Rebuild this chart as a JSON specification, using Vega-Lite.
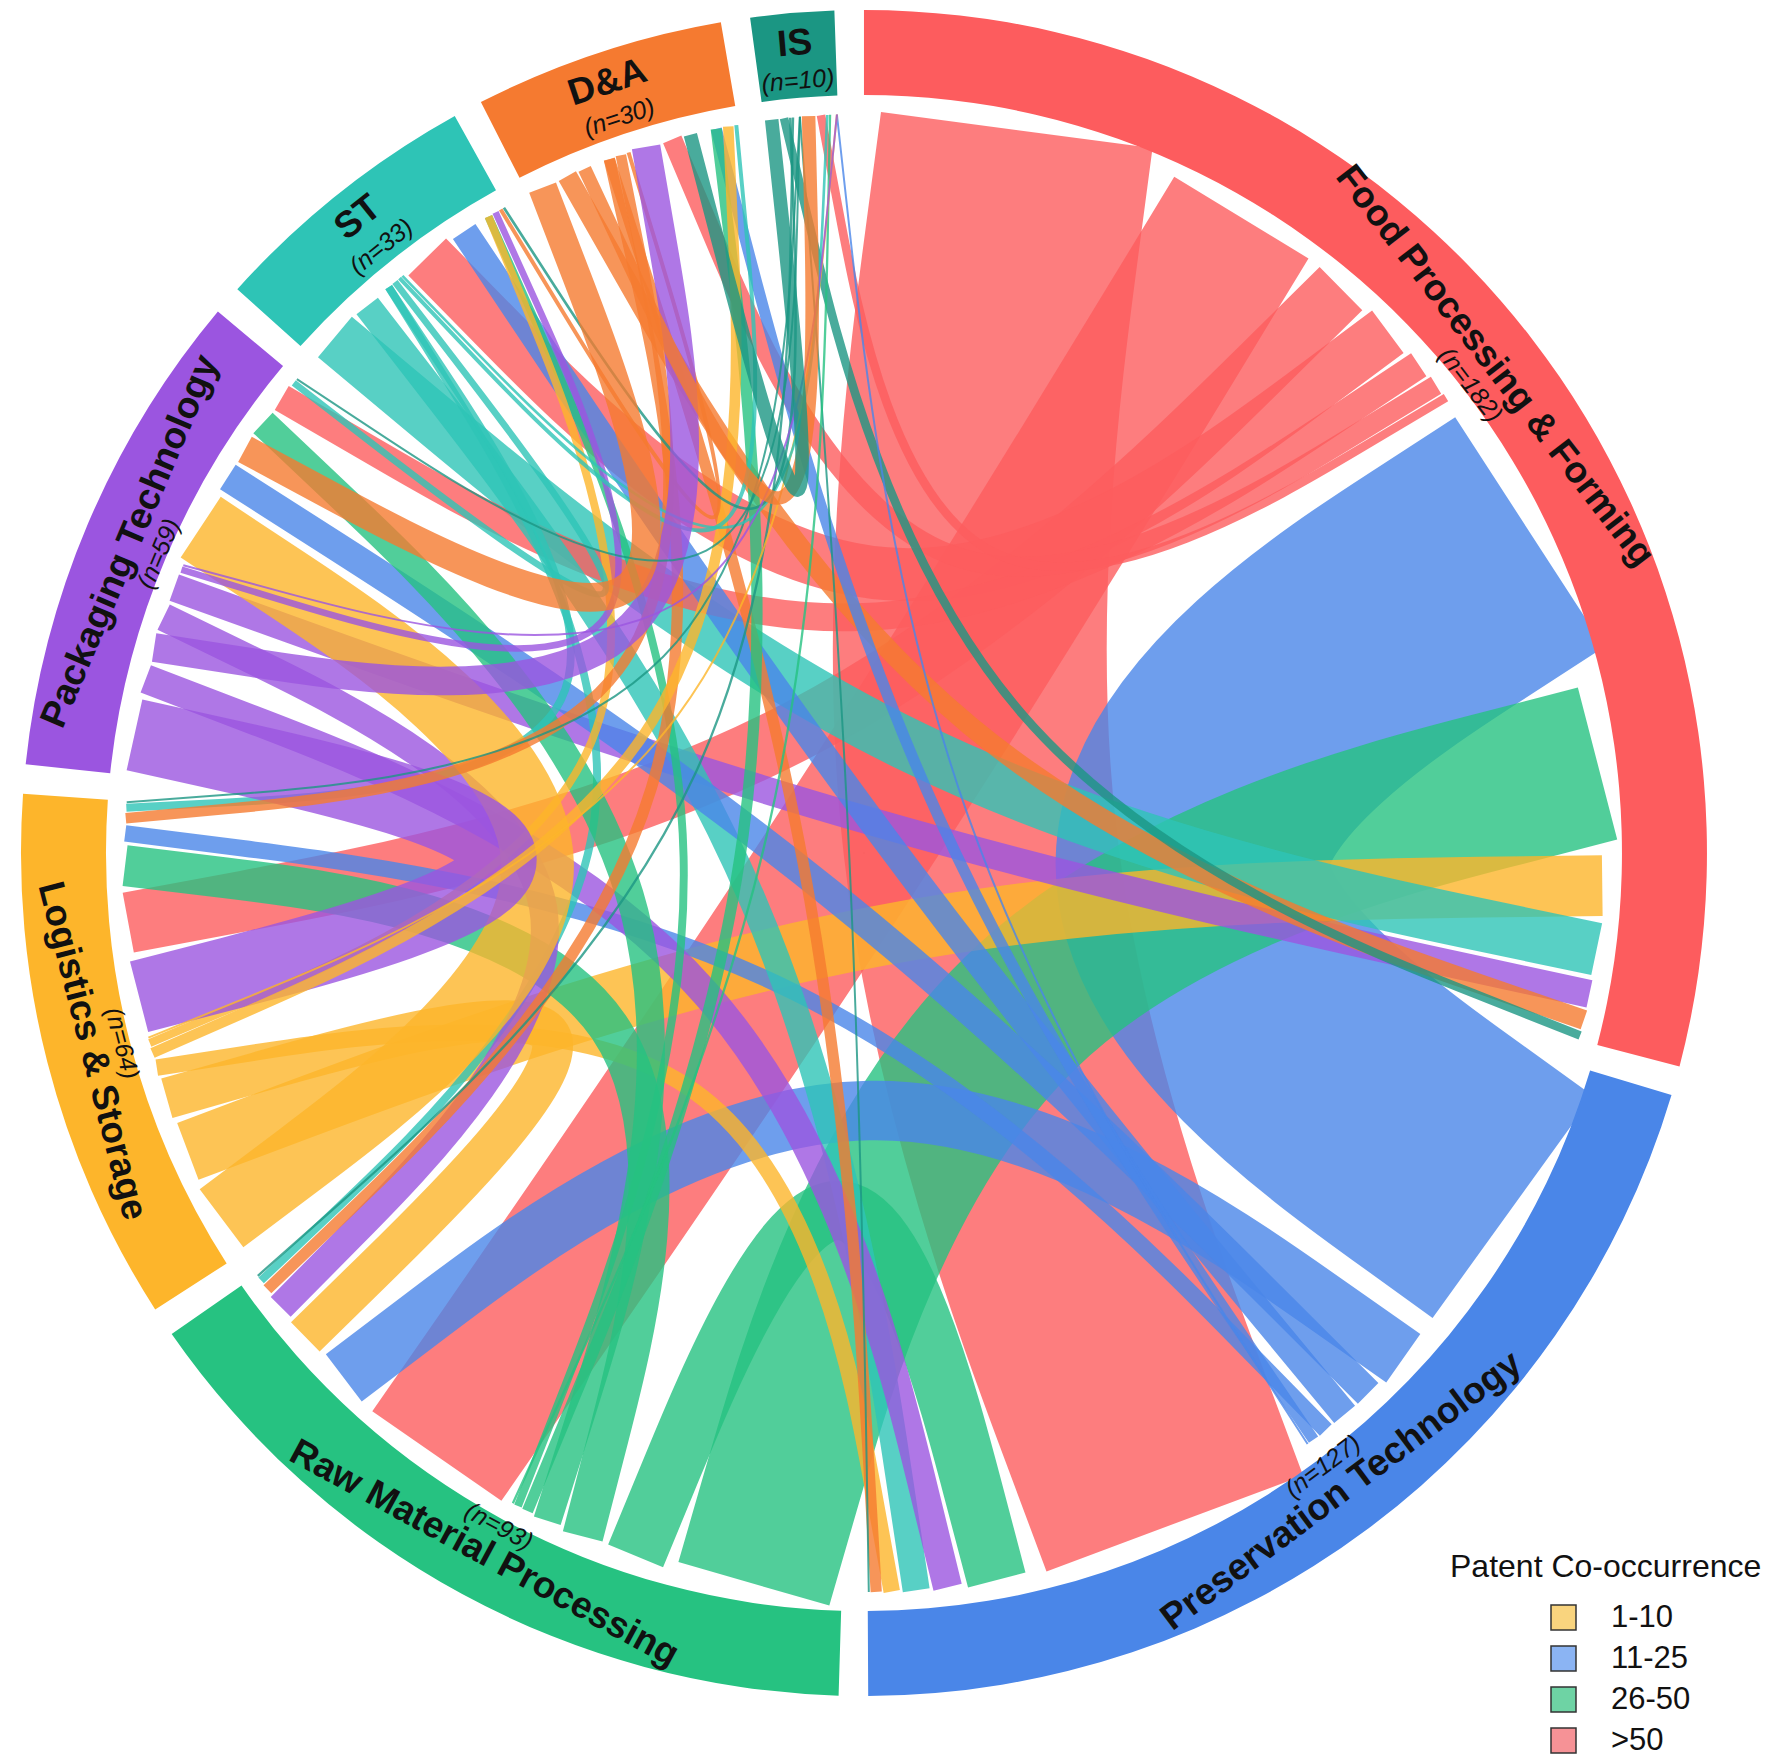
{
  "$schema": "https://vega.github.io/schema/vega-lite/v6.json",
  "width": 1783,
  "height": 1764,
  "autosize": {"type": "none"},
  "padding": 0,
  "background": "white",
  "config": {"view": {"stroke": null}},
  "datasets": {
    "sectors": [
      {"code": "FPF", "label": "Food Processing & Forming", "n": 182, "idx": 0},
      {"code": "PT", "label": "Preservation Technology", "n": 127, "idx": 1},
      {"code": "RMP", "label": "Raw Material Processing", "n": 93, "idx": 2},
      {"code": "LS", "label": "Logistics & Storage", "n": 64, "idx": 3},
      {"code": "PKT", "label": "Packaging Technology", "n": 59, "idx": 4},
      {"code": "ST", "label": "ST", "n": 33, "idx": 5},
      {"code": "D&A", "label": "D&A", "n": 30, "idx": 6},
      {"code": "IS", "label": "IS", "n": 10, "idx": 7}
    ],
    "links": [
      {"from": "FPF", "to": "PT", "value": 41.5}, {"from": "PT", "to": "FPF", "value": 41.5},
      {"from": "FPF", "to": "RMP", "value": 23.8}, {"from": "RMP", "to": "FPF", "value": 23.8},
      {"from": "FPF", "to": "LS", "value": 9.2}, {"from": "LS", "to": "FPF", "value": 9.2},
      {"from": "FPF", "to": "ST", "value": 8}, {"from": "ST", "to": "FPF", "value": 8},
      {"from": "FPF", "to": "PKT", "value": 4.2}, {"from": "PKT", "to": "FPF", "value": 4.2},
      {"from": "FPF", "to": "D&A", "value": 3}, {"from": "D&A", "to": "FPF", "value": 3},
      {"from": "FPF", "to": "IS", "value": 1.3}, {"from": "IS", "to": "FPF", "value": 1.3},
      {"from": "PT", "to": "RMP", "value": 9}, {"from": "RMP", "to": "PT", "value": 9},
      {"from": "PT", "to": "LS", "value": 2.5}, {"from": "LS", "to": "PT", "value": 2.5},
      {"from": "PT", "to": "ST", "value": 4.1}, {"from": "ST", "to": "PT", "value": 4.1},
      {"from": "PT", "to": "PKT", "value": 4.4}, {"from": "PKT", "to": "PT", "value": 4.4},
      {"from": "PT", "to": "D&A", "value": 1.7}, {"from": "D&A", "to": "PT", "value": 1.7},
      {"from": "PT", "to": "IS", "value": 0.3}, {"from": "IS", "to": "PT", "value": 0.3},
      {"from": "RMP", "to": "LS", "value": 6.2}, {"from": "LS", "to": "RMP", "value": 6.2},
      {"from": "RMP", "to": "ST", "value": 1.2}, {"from": "ST", "to": "RMP", "value": 1.2},
      {"from": "RMP", "to": "PKT", "value": 4.25}, {"from": "PKT", "to": "RMP", "value": 4.25},
      {"from": "RMP", "to": "D&A", "value": 1.7}, {"from": "D&A", "to": "RMP", "value": 1.7},
      {"from": "RMP", "to": "IS", "value": 0.35}, {"from": "IS", "to": "RMP", "value": 0.35},
      {"from": "LS", "to": "ST", "value": 1.2}, {"from": "ST", "to": "LS", "value": 1.2},
      {"from": "LS", "to": "PKT", "value": 11}, {"from": "PKT", "to": "LS", "value": 11},
      {"from": "LS", "to": "D&A", "value": 1.6}, {"from": "D&A", "to": "LS", "value": 1.6},
      {"from": "LS", "to": "IS", "value": 0.3}, {"from": "IS", "to": "LS", "value": 0.3},
      {"from": "ST", "to": "PKT", "value": 1}, {"from": "PKT", "to": "ST", "value": 1},
      {"from": "ST", "to": "D&A", "value": 0.6}, {"from": "D&A", "to": "ST", "value": 0.6},
      {"from": "ST", "to": "IS", "value": 0.4}, {"from": "IS", "to": "ST", "value": 0.4},
      {"from": "PKT", "to": "D&A", "value": 4.35}, {"from": "D&A", "to": "PKT", "value": 4.35},
      {"from": "PKT", "to": "IS", "value": 0.3}, {"from": "IS", "to": "PKT", "value": 0.3},
      {"from": "D&A", "to": "IS", "value": 2.05}, {"from": "IS", "to": "D&A", "value": 2.05}
    ],
    "legendCats": [{"cat": "1-10"}, {"cat": "11-25"}, {"cat": "26-50"}, {"cat": ">50"}]
  },
  "layer": [
    {
      "data": {"name": "legendCats"},
      "mark": {"type": "square", "size": 1},
      "encoding": {
        "x": {"datum": 0, "type": "quantitative", "scale": {"domain": [-1.1691, 1.2436], "nice": false, "zero": false}, "axis": null},
        "y": {"datum": 0, "type": "quantitative", "scale": {"domain": [-1.2327, 1.1543], "nice": false, "zero": false}, "axis": null},
        "fill": {
          "field": "cat", "type": "nominal",
          "scale": {"domain": ["1-10", "11-25", "26-50", ">50"], "range": ["#F9D47E", "#8BB4F3", "#6ED3A4", "#F69296"]},
          "legend": {
            "title": "Patent Co-occurrence", "orient": "none", "legendX": 1450, "legendY": 1552,
            "direction": "vertical", "symbolType": "square", "symbolSize": 625,
            "symbolStrokeColor": "#333333", "symbolStrokeWidth": 1.5, "symbolOpacity": 1,
            "symbolOffset": 98, "labelOffset": 32, "rowPadding": 9, "titlePadding": 18,
            "titleFontSize": 32, "titleFontWeight": "normal", "titleFont": "Liberation Sans", "titleColor": "#111111",
            "titleLimit": 500, "labelFont": "Liberation Sans", "labelFontSize": 31, "labelColor": "#111111", "padding": 0
          }
        }
      }
    },
    {
      "data": {"name": "links"},
      "transform": [
        {"window": [{"op": "row_number", "as": "lid"}]},
        {"lookup": "from", "from": {"data": {"name": "sectors"}, "key": "code", "fields": ["idx"]}, "as": ["fi"]},
        {"lookup": "to", "from": {"data": {"name": "sectors"}, "key": "code", "fields": ["idx"]}, "as": ["ti"]},
        {"calculate": "'centre'", "as": "via"},
        {"calculate": "datum.from", "as": "src"},
        {"fold": ["from", "to", "via"], "as": ["end", "sector"]},
        {"calculate": "datum.end === 'from' ? datum.fi : (datum.end === 'to' ? datum.ti : 99)", "as": "sIdx"},
        {"calculate": "datum.end === 'from' ? 0 : 1", "as": "inc"},
        {"calculate": "datum.end === 'via' ? 0 : datum.value", "as": "w"},
        {"window": [{"op": "sum", "field": "w", "as": "cum"}], "sort": [{"field": "sIdx"}, {"field": "inc"}, {"field": "value", "order": "descending"}], "frame": [null, 0]},
        {"calculate": "(datum.cum - datum.w / 2 + datum.sIdx * 3.5) * 2 * PI / 626", "as": "ang"},
        {"calculate": "datum.end === 'via' ? 0 : sin(datum.ang)", "as": "px"},
        {"calculate": "datum.end === 'via' ? 0 : cos(datum.ang)", "as": "py"},
        {"calculate": "datum.end === 'from' ? 0 : (datum.end === 'via' ? 1 : 2)", "as": "po"}
      ],
      "mark": {"type": "line", "interpolate": "bundle", "tension": 0.75, "opacity": 0.8, "strokeCap": "butt"},
      "encoding": {
        "x": {"field": "px", "type": "quantitative", "scale": {"domain": [-1.1691, 1.2436], "nice": false, "zero": false}, "axis": null},
        "y": {"field": "py", "type": "quantitative", "scale": {"domain": [-1.2327, 1.1543], "nice": false, "zero": false}, "axis": null},
        "detail": {"field": "lid", "type": "nominal"},
        "order": {"field": "po", "type": "quantitative"},
        "stroke": {"field": "src", "type": "nominal", "scale": {"domain": ["FPF", "PT", "RMP", "LS", "PKT", "ST", "D&A", "IS"], "range": ["#FD5C5E", "#4A86E8", "#26C281", "#FDB52B", "#9B55E0", "#2EC4B6", "#F57A30", "#1B9683"]}, "legend": null},
        "strokeWidth": {"field": "value", "type": "quantitative", "scale": {"domain": [0, 10], "range": [0, 66]}, "legend": null}
      }
    },
    {
      "data": {"name": "sectors"},
      "transform": [
        {"window": [{"op": "sum", "field": "n", "as": "cumN"}], "sort": [{"field": "idx"}], "frame": [null, 0]},
        {"calculate": "datum.cumN - datum.n + datum.idx * 3.5", "as": "t0"},
        {"calculate": "datum.cumN + datum.idx * 3.5", "as": "t1"}
      ],
      "mark": {"type": "arc", "radius": 843, "radius2": 758},
      "encoding": {
        "x": {"datum": 0, "type": "quantitative", "scale": {"domain": [-1.1691, 1.2436], "nice": false, "zero": false}, "axis": null},
        "y": {"datum": 0, "type": "quantitative", "scale": {"domain": [-1.2327, 1.1543], "nice": false, "zero": false}, "axis": null},
        "theta": {"field": "t0", "type": "quantitative", "stack": null, "scale": {"domain": [0, 626], "range": [0, 6.283185307179586]}},
        "theta2": {"field": "t1"},
        "color": {"field": "code", "type": "nominal", "scale": {"domain": ["FPF", "PT", "RMP", "LS", "PKT", "ST", "D&A", "IS"], "range": ["#FD5C5E", "#4A86E8", "#26C281", "#FDB52B", "#9B55E0", "#2EC4B6", "#F57A30", "#1B9683"]}, "legend": null}
      }
    },
    {
      "data": {"name": "sectors"},
      "transform": [
        {"window": [{"op": "sum", "field": "n", "as": "cumN"}], "sort": [{"field": "idx"}], "frame": [null, 0]},
        {"calculate": "(datum.cumN - datum.n / 2 + datum.idx * 3.5) * 2 * PI / 626", "as": "a"},
        {"calculate": "datum.a * 180 / PI", "as": "deg"},
        {"calculate": "(datum.deg > 120 && datum.deg < 270) ? datum.deg - 180 : datum.deg", "as": "rot"},
        {"calculate": "length(datum.label) > 4 ? 797 / 739 : 812 / 739", "as": "rl"},
        {"calculate": "datum.rl * sin(datum.a)", "as": "lx"},
        {"calculate": "datum.rl * cos(datum.a)", "as": "ly"}
      ],
      "mark": {"type": "text", "font": "Liberation Sans", "fontWeight": "bold", "fontSize": 37, "align": "center", "baseline": "middle", "color": "#111111"},
      "encoding": {
        "x": {"field": "lx", "type": "quantitative", "scale": {"domain": [-1.1691, 1.2436], "nice": false, "zero": false}, "axis": null},
        "y": {"field": "ly", "type": "quantitative", "scale": {"domain": [-1.2327, 1.1543], "nice": false, "zero": false}, "axis": null},
        "text": {"field": "label", "type": "nominal"},
        "angle": {"field": "rot", "type": "quantitative", "scale": null}
      }
    },
    {
      "data": {"name": "sectors"},
      "transform": [
        {"window": [{"op": "sum", "field": "n", "as": "cumN"}], "sort": [{"field": "idx"}], "frame": [null, 0]},
        {"calculate": "(datum.cumN - datum.n / 2 + datum.idx * 3.5) * 2 * PI / 626", "as": "a"},
        {"calculate": "datum.a * 180 / PI", "as": "deg"},
        {"calculate": "(datum.deg > 120 && datum.deg < 270) ? datum.deg - 180 : datum.deg", "as": "rot"},
        {"calculate": "length(datum.label) > 4 ? 766 / 739 : 775 / 739", "as": "rn"},
        {"calculate": "datum.rn * sin(datum.a)", "as": "nx"},
        {"calculate": "datum.rn * cos(datum.a)", "as": "ny"},
        {"calculate": "'(n=' + datum.n + ')'", "as": "nl"}
      ],
      "mark": {"type": "text", "font": "Liberation Sans", "fontStyle": "italic", "fontSize": 25, "align": "center", "baseline": "middle", "color": "#111111"},
      "encoding": {
        "x": {"field": "nx", "type": "quantitative", "scale": {"domain": [-1.1691, 1.2436], "nice": false, "zero": false}, "axis": null},
        "y": {"field": "ny", "type": "quantitative", "scale": {"domain": [-1.2327, 1.1543], "nice": false, "zero": false}, "axis": null},
        "text": {"field": "nl", "type": "nominal"},
        "angle": {"field": "rot", "type": "quantitative", "scale": null}
      }
    }
  ]
}
